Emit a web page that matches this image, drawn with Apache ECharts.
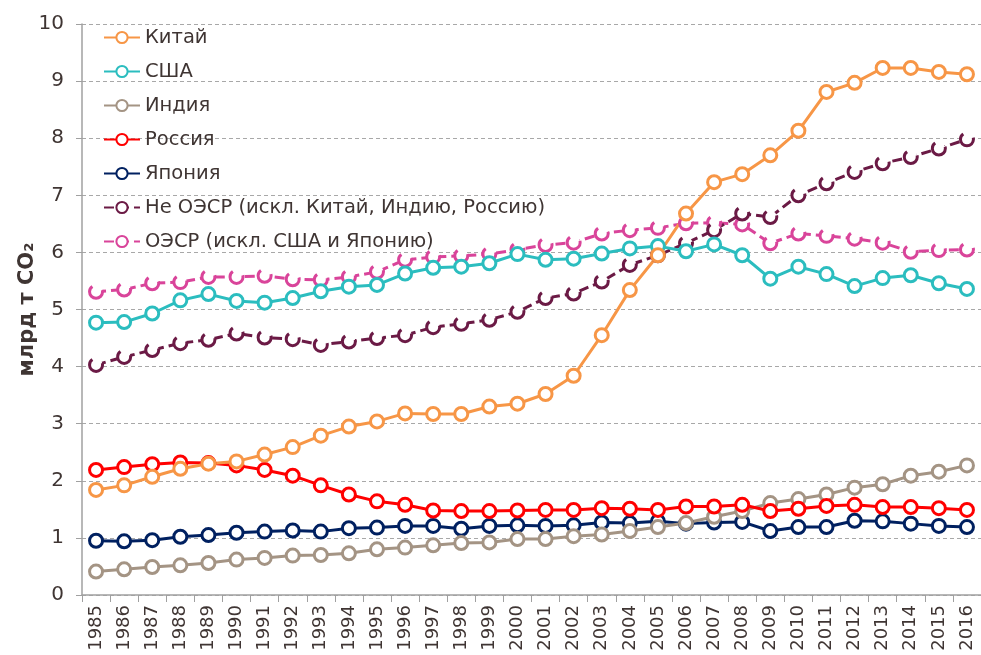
<!DOCTYPE html>
<html lang="ru">
<head>
<meta charset="UTF-8">
<title>Выбросы CO2</title>
<script src="https://cdn.jsdelivr.net/npm/echarts@6/dist/echarts.min.js"></script>
<style>
  html, body { margin: 0; padding: 0; background: #fff; }
  #chart { width: 981px; height: 655px; }
</style>
</head>
<body>
<div id="chart"></div>
<script>
var years = ['1985','1986','1987','1988','1989','1990','1991','1992','1993','1994','1995','1996','1997','1998','1999','2000',
  '2001','2002','2003','2004','2005','2006','2007','2008','2009','2010','2011','2012','2013','2014','2015','2016'];

var china = [1.84,1.92,2.07,2.21,2.30,2.34,2.46,2.59,2.79,2.95,3.04,3.18,3.17,3.17,3.30,3.35,
  3.52,3.84,4.55,5.34,5.95,6.68,7.23,7.37,7.70,8.13,8.81,8.97,9.23,9.23,9.16,9.12];
var usa = [4.77,4.78,4.93,5.16,5.27,5.15,5.12,5.20,5.32,5.40,5.43,5.63,5.73,5.75,5.81,5.97,
  5.87,5.89,5.98,6.07,6.11,6.02,6.14,5.95,5.54,5.75,5.62,5.41,5.55,5.60,5.46,5.36];
var india = [0.41,0.45,0.49,0.52,0.56,0.62,0.65,0.69,0.70,0.73,0.80,0.83,0.87,0.91,0.92,0.98,
  0.98,1.03,1.06,1.12,1.19,1.26,1.37,1.47,1.61,1.68,1.76,1.88,1.94,2.09,2.16,2.27];
var russia = [2.19,2.24,2.29,2.32,2.31,2.27,2.19,2.09,1.92,1.76,1.64,1.58,1.48,1.47,1.47,1.48,
  1.49,1.49,1.52,1.51,1.49,1.55,1.55,1.58,1.47,1.51,1.56,1.58,1.54,1.54,1.52,1.49];
var japan = [0.95,0.94,0.96,1.02,1.05,1.09,1.11,1.13,1.11,1.17,1.18,1.21,1.21,1.16,1.21,1.22,
  1.21,1.22,1.27,1.26,1.29,1.25,1.27,1.28,1.12,1.19,1.19,1.30,1.29,1.25,1.21,1.19];
var nonOecd = [4.03,4.17,4.29,4.41,4.47,4.58,4.51,4.48,4.38,4.44,4.50,4.55,4.69,4.75,4.82,4.96,
  5.20,5.28,5.49,5.78,5.95,6.16,6.39,6.68,6.62,7.00,7.21,7.41,7.56,7.67,7.82,7.98];
var oecd = [5.31,5.35,5.46,5.48,5.57,5.57,5.59,5.53,5.52,5.57,5.66,5.87,5.92,5.94,5.97,6.05,
  6.13,6.17,6.33,6.39,6.43,6.51,6.52,6.49,6.16,6.33,6.29,6.24,6.17,6.01,6.04,6.05];

var names = ['Китай','США','Индия','Россия','Япония','Не ОЭСР (искл. Китай, Индию, Россию)','ОЭСР (искл. США и Японию)'];
var colors = ['#F79646','#2BBDBF','#A49484','#FF0000','#002060','#6B1A45','#D9449A'];

var textColor = '#3F3533';
var chart = echarts.init(document.getElementById('chart'));

function solid(name, data, color) {
  return {
    name: name, type: 'line', data: data,
    symbol: 'circle', symbolSize: 13,
    lineStyle: { color: color, width: 3 },
    itemStyle: { color: '#fff', borderColor: color, borderWidth: 3 }
  };
}
// dashed line, open "C"-like markers
function dashed(name, data, color) {
  return {
    name: name, type: 'line', data: data,
    symbol: 'circle', symbolSize: 13,
    lineStyle: { color: color, width: 3, type: [10, 5] },
    itemStyle: { color: '#fff', borderColor: color, borderWidth: 3, borderType: [26, 12] }
  };
}

var option = {
  animation: false,
  textStyle: { fontFamily: 'DejaVu Sans' },
  grid: { left: 82, right: -4, top: 24, bottom: 60, containLabel: false },
  legend: {
    orient: 'vertical', left: 98, top: 22,
    itemWidth: 36, itemHeight: 14, itemGap: 13,
    textStyle: { fontSize: 19.5, color: textColor, lineHeight: 21 },
    data: names
  },
  xAxis: {
    type: 'category', data: years, boundaryGap: true,
    axisLine: { lineStyle: { color: '#A0A0A0', width: 1.5 } },
    axisTick: { show: true, length: 7, lineStyle: { color: '#A0A0A0' } },
    axisLabel: { rotate: 90, interval: 0, fontSize: 18, color: textColor, margin: 10 }
  },
  yAxis: {
    type: 'value', min: 0, max: 10, interval: 1,
    name: 'млрд т CO₂', nameLocation: 'middle', nameGap: 44, nameRotate: 90,
    nameMoveOverlap: false,
    nameTextStyle: { fontSize: 21, fontWeight: 'bold', color: textColor },
    axisLine: { show: true, lineStyle: { color: '#A0A0A0', width: 1.5 } },
    axisTick: { show: true, length: 6, lineStyle: { color: '#A0A0A0' } },
    axisLabel: { fontSize: 20, color: textColor, margin: 18 },
    splitLine: { lineStyle: { color: '#A8A8A8', type: [4, 3] } }
  },
  series: [
    dashed(names[6], oecd, colors[6]),
    dashed(names[5], nonOecd, colors[5]),
    solid(names[4], japan, colors[4]),
    solid(names[2], india, colors[2]),
    solid(names[3], russia, colors[3]),
    solid(names[1], usa, colors[1]),
    solid(names[0], china, colors[0])
  ]
};
chart.setOption(option);
</script>
</body>
</html>
